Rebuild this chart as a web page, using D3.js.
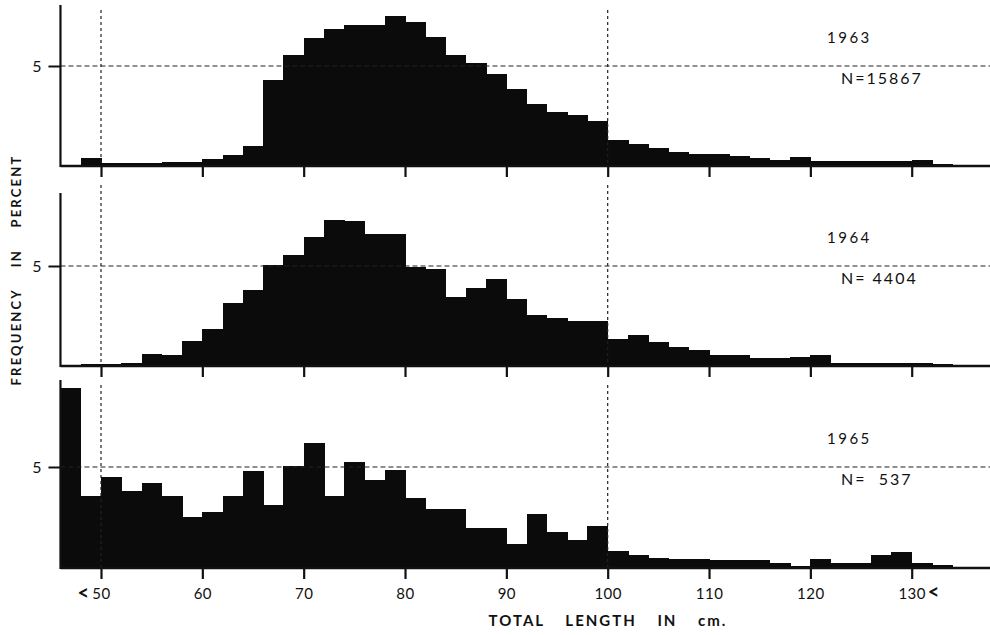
<!DOCTYPE html>
<html>
<head>
<meta charset="utf-8">
<script src="https://cdn.jsdelivr.net/npm/d3@7"></script>
<style>
  html, body { margin: 0; padding: 0; background: #fff; }
  svg { display: block; }
  text { font-family: "Lato", "DejaVu Sans", sans-serif; fill: #111; }
</style>
</head>
<body>
<svg id="chart" width="990" height="635"></svg>
<script>
// ---- data ----
const binStarts = d3.range(46, 134, 2); // 2 cm classes, 46..132
const years = ["1963", "1964", "1965"];
const nLabels = ["N=15867", "N= 4404", "N=  537"];
const freq1963 = [0.02,0.35,0.08,0.08,0.10,0.15,0.15,0.29,0.49,0.96,4.28,5.56,6.43,6.85,7.05,7.05,7.54,7.22,6.45,5.56,5.14,4.58,3.82,3.08,2.69,2.54,2.24,1.28,1.04,0.86,0.64,0.58,0.56,0.44,0.35,0.24,0.39,0.19,0.19,0.19,0.19,0.19,0.27,0.05];
const freq1964 = [0.00,0.05,0.07,0.10,0.54,0.52,1.20,1.82,3.11,3.77,5.05,5.57,6.48,7.32,7.27,6.60,6.60,4.97,4.83,3.45,3.87,4.36,3.32,2.53,2.36,2.22,2.22,1.30,1.50,1.16,0.89,0.76,0.52,0.52,0.34,0.35,0.40,0.49,0.12,0.12,0.12,0.12,0.12,0.05];
const freq1965 = [8.95,3.53,4.48,3.82,4.20,3.53,2.52,2.73,3.57,4.82,3.10,5.03,6.20,3.53,5.25,4.35,4.87,3.45,2.88,2.88,1.93,1.93,1.15,2.67,1.75,1.35,2.07,0.80,0.58,0.43,0.40,0.40,0.37,0.37,0.33,0.20,0.07,0.38,0.20,0.20,0.58,0.73,0.22,0.08];
const series = [freq1963, freq1964, freq1965];
const xTicks = [50, 60, 70, 80, 90, 100, 110, 120, 130];
const refLines = [50, 100];
const yTick = 5;

// ---- layout ----
const svg = d3.select("#chart");
const x = d3.scaleLinear().domain([50, 130]).range([101, 911.7]);
const axisLeftX = x(46);
const rightEdge = 990;
const panels = [
  { base: 165, five: 66, top: 5, vtop: 10 },
  { base: 365, five: 266, top: 193, vtop: 185 },
  { base: 567, five: 467, top: 380, vtop: 385 }
];

panels.forEach((p, i) => {
  const y = d3.scaleLinear().domain([0, 5]).range([p.base, p.five]);
  const g = svg.append("g");
  const vals = series[i];

  // bars
  g.append("g").selectAll("rect").data(binStarts).join("rect")
    .attr("x", d => x(d))
    .attr("width", d => x(d + 2) - x(d) + 0.6)
    .attr("y", (d, k) => y(vals[k]))
    .attr("height", (d, k) => p.base - y(vals[k]))
    .attr("fill", "#0b0b0b")
    .attr("shape-rendering", "crispEdges");

  // 5% dashed reference line
  g.append("line")
    .attr("x1", axisLeftX).attr("x2", rightEdge)
    .attr("y1", y(yTick)).attr("y2", y(yTick))
    .attr("stroke", "#222").attr("stroke-width", 1.2)
    .attr("stroke-dasharray", "5,3");

  // vertical dotted lines at 50 and 100
  g.selectAll("line.vref").data(refLines).join("line")
    .attr("class", "vref")
    .attr("x1", d => x(d)).attr("x2", d => x(d))
    .attr("y1", p.vtop).attr("y2", p.base)
    .attr("stroke", "#222").attr("stroke-width", 1.2)
    .attr("stroke-dasharray", "3,3");

  // x axis (baseline + ticks)
  const xAxis = d3.axisBottom(x).tickValues(xTicks).tickSize(12).tickSizeOuter(0)
    .tickFormat(i === 2 ? d3.format("d") : () => "");
  const ax = g.append("g").attr("transform", `translate(0,${p.base})`).call(xAxis);
  ax.select(".domain").remove();
  ax.selectAll(".tick line").attr("stroke", "#111").attr("stroke-width", 2.2);
  ax.selectAll(".tick text")
    .attr("y", 21).attr("dy", "0.71em")
    .style("font-size", "15px").style("letter-spacing", "0.5px")
    .style("font-family", "Lato, 'DejaVu Sans', sans-serif").attr("fill", "#111");
  g.append("line")
    .attr("x1", axisLeftX).attr("x2", rightEdge)
    .attr("y1", p.base + 1).attr("y2", p.base + 1)
    .attr("stroke", "#111").attr("stroke-width", 2.5);

  // left axis
  const yAxis = d3.axisLeft(y).tickValues([yTick]).tickSize(12).tickPadding(7)
    .tickFormat(d3.format("d"));
  const ay = g.append("g").attr("transform", `translate(${axisLeftX},0)`).call(yAxis);
  ay.select(".domain").remove();
  ay.selectAll(".tick line").attr("stroke", "#111").attr("stroke-width", 2);
  ay.selectAll(".tick text").style("font-size", "16px").attr("fill", "#111");
  g.append("line")
    .attr("x1", axisLeftX).attr("x2", axisLeftX)
    .attr("y1", p.top).attr("y2", p.base + 2)
    .attr("stroke", "#111").attr("stroke-width", 2.2);

  // year and N labels
  g.append("text")
    .attr("x", 827).attr("y", y(yTick) - 27)
    .attr("dominant-baseline", "middle")
    .style("font-size", "15px").style("letter-spacing", "2.5px")
    .text(years[i]);
  g.append("text")
    .attr("x", 841).attr("y", y(yTick) + 14)
    .attr("dominant-baseline", "middle")
    .style("font-size", "16px").style("letter-spacing", "2px")
    .style("white-space", "pre")
    .attr("xml:space", "preserve")
    .text(nLabels[i]);
});

// open-ended class markers "<" beside 50 and 130
const lastBase = panels[2].base;
svg.append("text").attr("x", x(50) - 12).attr("y", lastBase + 28)
  .attr("text-anchor", "end").attr("dominant-baseline", "middle")
  .style("font-size", "20px").style("font-weight", "bold").text("<");
svg.append("text").attr("x", x(130) + 16).attr("y", lastBase + 27)
  .attr("text-anchor", "start").attr("dominant-baseline", "middle")
  .style("font-size", "20px").style("font-weight", "bold").text("<");

// axis titles
svg.append("text")
  .attr("x", 608).attr("y", 622)
  .attr("text-anchor", "middle").attr("dominant-baseline", "middle")
  .style("font-size", "15px").style("font-weight", "bold")
  .style("letter-spacing", "2px").style("word-spacing", "15px")
  .text("TOTAL LENGTH IN cm.");
svg.append("text")
  .attr("transform", "translate(18,270) rotate(-90)")
  .attr("text-anchor", "middle").attr("dominant-baseline", "middle")
  .style("font-size", "13px").style("font-weight", "bold")
  .style("letter-spacing", "2.2px").style("word-spacing", "16px")
  .text("FREQUENCY IN PERCENT");
</script>
</body>
</html>
